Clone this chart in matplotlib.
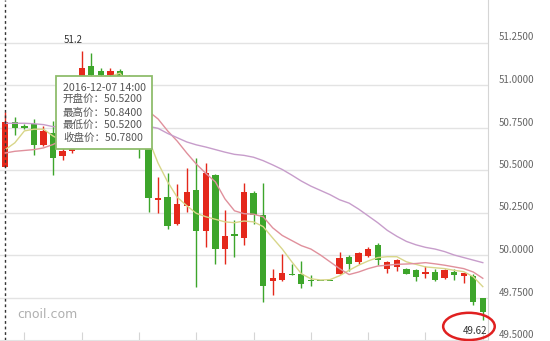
import matplotlib
matplotlib.use("Agg")
import matplotlib.pyplot as plt
from matplotlib.patches import Ellipse

plt.rcParams['font.family'] = ['Noto Sans CJK SC', 'DejaVu Sans']

# ------------------ DADOS ------------------ #
opens = [50.52, 50.78, 50.755, 50.77, 50.65, 50.72, 50.585, 50.61, 51.03, 51.11,
         51.08, 51.06, 51.085, 51.05, 50.85, 50.68, 50.325, 50.34, 50.18, 50.29,
         50.38, 50.14, 50.47, 50.035, 50.125, 50.10, 50.365, 50.235, 49.845, 49.853,
         49.89, 49.89, 49.853, 49.848, 49.847, 49.89, 49.99, 49.96, 49.995, 50.06,
         49.92, 49.93, 49.92, 49.91, 49.89, 49.90, 49.865, 49.90, 49.876, 49.875,
         49.745]
highs = [50.84, 50.81, 50.77, 50.80, 50.76, 50.79, 50.63, 50.98, 51.20, 51.19,
         51.10, 51.10, 51.095, 51.06, 50.88, 50.70, 50.46, 50.48, 50.415, 50.51,
         50.57, 50.54, 50.475, 50.265, 50.205, 50.425, 50.375, 50.425, 49.92, 50.005,
         49.95, 49.965, 49.88, 49.848, 49.848, 50.02, 50.00, 50.02, 50.045, 50.07,
         49.965, 49.975, 49.925, 49.915, 49.935, 49.92, 49.92, 49.92, 49.895, 49.89,
         49.75]
lows = [50.52, 50.705, 50.74, 50.59, 50.64, 50.47, 50.56, 50.60, 51.00, 51.02,
        51.03, 51.03, 51.02, 50.80, 50.57, 50.255, 50.245, 50.155, 50.175, 50.255,
        49.81, 50.05, 49.95, 49.95, 49.99, 50.06, 50.185, 49.725, 49.765, 49.85,
        49.88, 49.805, 49.82, 49.845, 49.845, 49.89, 49.905, 49.945, 49.99, 49.94,
        49.895, 49.905, 49.89, 49.85, 49.865, 49.85, 49.86, 49.855, 49.833, 49.705,
        49.62]
closes = [50.78, 50.75, 50.75, 50.65, 50.73, 50.57, 50.61, 50.95, 51.10, 51.06,
          51.06, 51.08, 51.05, 50.85, 50.70, 50.335, 50.335, 50.17, 50.30, 50.37,
          50.14, 50.48, 50.035, 50.11, 50.11, 50.37, 50.235, 49.82, 49.865, 49.892,
          49.885, 49.83, 49.845, 49.846, 49.846, 49.98, 49.95, 50.01, 50.035, 49.97,
          49.96, 49.97, 49.89, 49.87, 49.90, 49.855, 49.91, 49.88, 49.892, 49.725,
          49.665]

ma5 = [50.62, 50.66, 50.73, 50.74, 50.74, 50.70, 50.67, 50.72, 50.80, 50.90,
       50.98, 51.05, 51.07, 51.00, 50.90, 50.68, 50.54, 50.43, 50.34, 50.29,
       50.245, 50.225, 50.21, 50.195, 50.19, 50.20, 50.195, 50.167, 50.10, 50.035,
       49.96, 49.89, 49.86, 49.853, 49.855, 49.878, 49.91, 49.94, 49.965, 49.985,
       49.99, 49.99, 49.96, 49.945, 49.93, 49.925, 49.92, 49.91, 49.902, 49.872,
       49.814]
ma10 = [50.60, 50.61, 50.615, 50.62, 50.63, 50.65, 50.68, 50.72, 50.76, 50.80,
        50.84, 50.87, 50.89, 50.88, 50.86, 50.845, 50.80, 50.73, 50.67, 50.60,
        50.535, 50.48, 50.43, 50.33, 50.26, 50.243, 50.24, 50.225, 50.16, 50.115,
        50.085, 50.055, 50.035, 50.00, 49.96, 49.92, 49.885, 49.90, 49.92, 49.935,
        49.94, 49.945, 49.947, 49.95, 49.955, 49.948, 49.94, 49.93, 49.92, 49.90,
        49.863]
ma20 = [50.775, 50.775, 50.775, 50.772, 50.767, 50.755, 50.755, 50.755, 50.76, 50.765,
        50.77, 50.775, 50.775, 50.77, 50.765, 50.757, 50.745, 50.715, 50.69, 50.665,
        50.648, 50.635, 50.62, 50.605, 50.592, 50.586, 50.575, 50.555, 50.53, 50.503,
        50.47, 50.435, 50.405, 50.38, 50.355, 50.325, 50.305, 50.27, 50.23, 50.19,
        50.145, 50.11, 50.08, 50.06, 50.045, 50.035, 50.02, 50.00, 49.985, 49.97,
        49.955]

y_ticks = [49.5, 49.75, 50.0, 50.25, 50.5, 50.75, 51.0, 51.25]
data_hover = "2016-12-07 14:00"
rotulos_hover = ["开盘价", "最高价", "最低价", "收盘价"]

# ------------------ GRAFICO ------------------ #
vermelho = '#e4281b'
verde = '#3da52b'

fig = plt.figure(figsize=(5.5, 3.41), dpi=100)
ax = fig.add_axes([0, 1 / 341, 488 / 550, 340 / 341])

n = len(opens)
xs = list(range(n))
ax.set_xlim(-0.555, n - 1 + 0.545)
ax.set_ylim(49.5, 51.5)

for y in y_ticks[1:]:
    ax.axhline(y, color='#e3e3e3', lw=1, zorder=0)

for i in xs:
    o, h, l, c = opens[i], highs[i], lows[i], closes[i]
    cor = vermelho if c > o else verde
    ax.vlines(i, l, h, color=cor, lw=1, zorder=3)
    base = min(o, c)
    alt = max(abs(c - o), 0.006)
    ax.bar(i, alt, bottom=base, width=0.66, color=cor, lw=0, zorder=4)

ax.plot(xs, ma5, color='#d8d68a', lw=1, zorder=5)
ax.plot(xs, ma10, color='#e0909c', lw=1, zorder=5)
ax.plot(xs, ma20, color='#c79dcb', lw=1, zorder=5)

# linha do cursor
ax.axvline(0, color='#333333', lw=1, ls=(0, (2, 2)), zorder=6)

# maximo e minimo
i_max = highs.index(max(highs))
ax.annotate(f"{max(highs):.1f}", xy=(i_max, max(highs)), xytext=(1, 4),
            textcoords='offset points', ha='right', va='bottom',
            fontsize=7, color='#333333')
i_min = lows.index(min(lows))
ax.annotate(f"{min(lows):.2f}", xy=(i_min, min(lows)), xytext=(3, -8),
            textcoords='offset points', ha='right', va='center',
            fontsize=7, color='#333333', zorder=8)
ax.add_patch(Ellipse((i_min - 1.45, min(lows) - 0.04), 5.4, 0.16, fill=False,
                     ec='#e02020', lw=1.8, clip_on=False, zorder=9))

# tooltip
valores = [opens[0], highs[0], lows[0], closes[0]]
linhas = [data_hover] + [f"{r}：{v:.4f}" for r, v in zip(rotulos_hover, valores)]
ax.text(0.129, 0.757, "\n".join(linhas), transform=ax.transAxes,
        ha='left', va='top', fontsize=7.6, color='#555555', linespacing=1.3,
        zorder=10,
        bbox=dict(boxstyle='square,pad=0.62', fc='white', ec='#8fbd6c', lw=1.3))

ax.text(0.036, 0.075, "cnoil.com", transform=ax.transAxes, fontsize=9,
        color='#b0b0b0', ha='left', va='center', family='DejaVu Sans')

# eixos
ax.yaxis.tick_right()
ax.set_yticks(y_ticks)
ax.set_yticklabels([f"{v:.4f}" for v in y_ticks])
ax.tick_params(axis='y', length=0, pad=8, labelsize=7, labelcolor='#666666')
for lab in ax.get_yticklabels():
    lab.set_verticalalignment('bottom')

ax.set_xticks(list(range(2, n, 6)))
ax.set_xticklabels([])
ax.tick_params(axis='x', direction='in', length=5.5, color='#d5d5d5')

for lado in ['top', 'left']:
    ax.spines[lado].set_visible(False)
ax.spines['right'].set_color('#d5d5d5')
ax.spines['bottom'].set_color('#e3e3e3')

fig.savefig('out.png', dpi=100)
